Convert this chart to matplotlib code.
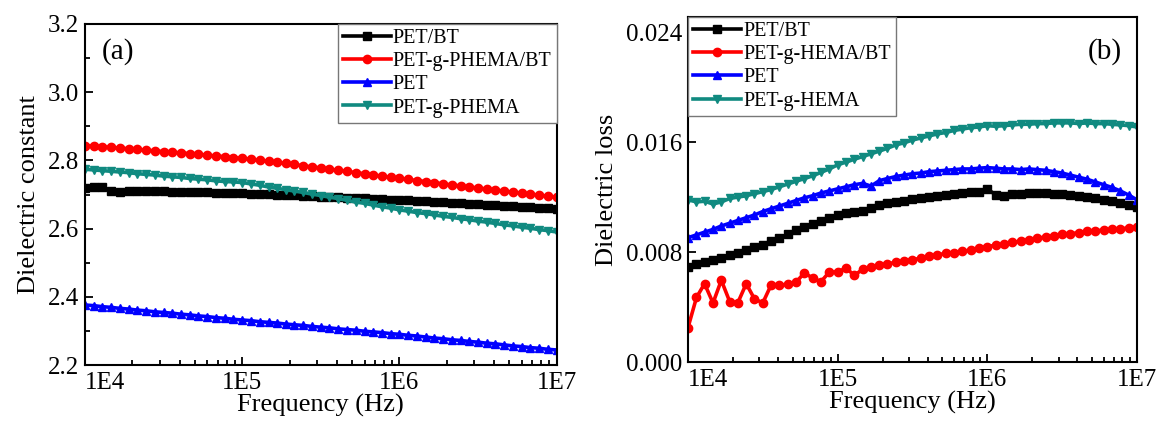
import matplotlib
matplotlib.use("Agg")
import matplotlib.pyplot as plt
from matplotlib.ticker import FixedLocator, LogLocator, MultipleLocator, FormatStrFormatter, NullFormatter

plt.rcParams['font.family'] = ['Liberation Serif', 'DejaVu Serif']

# frequency sweep (Hz), shared by both panels
freq = [1.00e4, 1.14e4, 1.29e4, 1.47e4, 1.67e4, 1.90e4, 2.15e4, 2.45e4, 2.78e4,
        3.16e4, 3.59e4, 4.08e4, 4.64e4, 5.27e4, 6.00e4, 6.81e4, 7.74e4, 8.80e4,
        1.00e5, 1.14e5, 1.29e5, 1.47e5, 1.67e5, 1.90e5, 2.15e5, 2.45e5, 2.78e5,
        3.16e5, 3.59e5, 4.08e5, 4.64e5, 5.27e5, 6.00e5, 6.81e5, 7.74e5, 8.80e5,
        1.00e6, 1.14e6, 1.29e6, 1.47e6, 1.67e6, 1.90e6, 2.15e6, 2.45e6, 2.78e6,
        3.16e6, 3.59e6, 4.08e6, 4.64e6, 5.27e6, 6.00e6, 6.81e6, 7.74e6, 8.80e6,
        1.00e7]

# (a) dielectric constant
eps_pet_bt = [2.720, 2.722, 2.723, 2.709, 2.708, 2.709, 2.710, 2.709, 2.711, 2.710,
              2.708, 2.707, 2.707, 2.706, 2.706, 2.705, 2.705, 2.704, 2.703,
              2.702, 2.702, 2.701, 2.700, 2.699, 2.698, 2.697, 2.696, 2.694, 2.693,
              2.692, 2.691, 2.690, 2.689, 2.688, 2.687, 2.685, 2.684,
              2.683, 2.681, 2.680, 2.679, 2.677, 2.676, 2.674, 2.673, 2.671, 2.670,
              2.668, 2.667, 2.665, 2.664, 2.662, 2.661, 2.659, 2.657]
eps_phema_bt = [2.843, 2.842, 2.840, 2.838, 2.836, 2.834, 2.832, 2.830, 2.828, 2.826,
                2.824, 2.822, 2.820, 2.818, 2.815, 2.813, 2.811, 2.808, 2.806,
                2.803, 2.800, 2.797, 2.794, 2.791, 2.788, 2.784, 2.781, 2.778, 2.774,
                2.771, 2.768, 2.764, 2.761, 2.757, 2.754, 2.750, 2.747,
                2.744, 2.741, 2.738, 2.735, 2.731, 2.728, 2.725, 2.722, 2.719, 2.716,
                2.713, 2.710, 2.707, 2.704, 2.701, 2.698, 2.695, 2.692]
eps_pet = [2.376, 2.374, 2.371, 2.369, 2.366, 2.364, 2.361, 2.359, 2.356, 2.354,
           2.352, 2.349, 2.347, 2.344, 2.342, 2.339, 2.337, 2.334, 2.332,
           2.330, 2.327, 2.325, 2.323, 2.320, 2.318, 2.316, 2.313, 2.311, 2.309,
           2.306, 2.304, 2.302, 2.299, 2.297, 2.295, 2.292, 2.290,
           2.287, 2.285, 2.282, 2.279, 2.277, 2.274, 2.272, 2.269, 2.267, 2.264,
           2.262, 2.259, 2.256, 2.254, 2.251, 2.249, 2.246, 2.244]
eps_phema = [2.774, 2.772, 2.770, 2.768, 2.766, 2.764, 2.761, 2.759, 2.757, 2.754,
             2.752, 2.750, 2.747, 2.745, 2.743, 2.740, 2.738, 2.737, 2.735,
             2.731, 2.727, 2.722, 2.718, 2.714, 2.710, 2.706, 2.701, 2.697, 2.692,
             2.688, 2.683, 2.678, 2.674, 2.669, 2.664, 2.660, 2.655,
             2.651, 2.647, 2.644, 2.640, 2.636, 2.633, 2.629, 2.626, 2.622, 2.619,
             2.615, 2.611, 2.608, 2.604, 2.601, 2.597, 2.594, 2.590]

# (b) dielectric loss
loss_pet_bt = [0.00690, 0.00710, 0.00725, 0.00740, 0.00760, 0.00780, 0.00795, 0.00815, 0.00835, 0.00855,
               0.00880, 0.00900, 0.00930, 0.00960, 0.00985, 0.01005, 0.01025, 0.01050, 0.01070,
               0.01085, 0.01095, 0.01100, 0.01120, 0.01145, 0.01155, 0.01165, 0.01175, 0.01185, 0.01190,
               0.01200, 0.01210, 0.01215, 0.01220, 0.01230, 0.01235, 0.01240, 0.01260,
               0.01215, 0.01210, 0.01220, 0.01225, 0.01230, 0.01230, 0.01230, 0.01225, 0.01220, 0.01215,
               0.01205, 0.01200, 0.01190, 0.01180, 0.01170, 0.01160, 0.01145, 0.01130]
loss_hema_bt = [0.00250, 0.00470, 0.00570, 0.00430, 0.00595, 0.00440, 0.00430, 0.00570, 0.00460, 0.00430,
                0.00560, 0.00560, 0.00565, 0.00580, 0.00650, 0.00610, 0.00585, 0.00655, 0.00655,
                0.00685, 0.00630, 0.00675, 0.00690, 0.00705, 0.00715, 0.00725, 0.00735, 0.00745, 0.00755,
                0.00770, 0.00780, 0.00790, 0.00795, 0.00805, 0.00815, 0.00830, 0.00840,
                0.00850, 0.00860, 0.00870, 0.00880, 0.00890, 0.00900, 0.00910, 0.00920, 0.00930, 0.00935,
                0.00940, 0.00950, 0.00955, 0.00960, 0.00965, 0.00970, 0.00975, 0.00980]
loss_pet = [0.00905, 0.00925, 0.00945, 0.00965, 0.00990, 0.01010, 0.01030, 0.01050, 0.01070, 0.01095,
            0.01115, 0.01135, 0.01155, 0.01175, 0.01195, 0.01210, 0.01230, 0.01245, 0.01260,
            0.01275, 0.01290, 0.01300, 0.01280, 0.01320, 0.01335, 0.01350, 0.01360, 0.01370, 0.01375,
            0.01385, 0.01390, 0.01395, 0.01400, 0.01405, 0.01405, 0.01410, 0.01415,
            0.01410, 0.01405, 0.01405, 0.01400, 0.01405, 0.01400, 0.01395, 0.01385, 0.01375, 0.01360,
            0.01345, 0.01330, 0.01310, 0.01290, 0.01270, 0.01245, 0.01215, 0.01180]
loss_hema = [0.01180, 0.01165, 0.01170, 0.01150, 0.01165, 0.01190, 0.01200, 0.01210, 0.01225, 0.01240,
             0.01255, 0.01275, 0.01295, 0.01315, 0.01335, 0.01355, 0.01380, 0.01405, 0.01435,
             0.01455, 0.01475, 0.01495, 0.01515, 0.01535, 0.01555, 0.01580, 0.01595, 0.01615, 0.01630,
             0.01645, 0.01660, 0.01670, 0.01685, 0.01695, 0.01705, 0.01710, 0.01720,
             0.01715, 0.01720, 0.01725, 0.01730, 0.01730, 0.01735, 0.01735, 0.01740, 0.01740, 0.01740,
             0.01735, 0.01740, 0.01735, 0.01735, 0.01730, 0.01725, 0.01720, 0.01710]

labels_a = ["PET/BT", "PET-g-PHEMA/BT", "PET", "PET-g-PHEMA"]
labels_b = ["PET/BT", "PET-g-HEMA/BT", "PET", "PET-g-HEMA"]
colors = ["black", "#ff0000", "#0000ff", "#108a80"]
markers = ["s", "o", "^", "v"]

fig = plt.figure(figsize=(11.59, 4.21), dpi=100)
ax1 = fig.add_axes([0.0733, 0.133, 0.407, 0.810])
ax2 = fig.add_axes([0.5936, 0.140, 0.3874, 0.8195])

series_a = [eps_pet_bt, eps_phema_bt, eps_pet, eps_phema]
series_b = [loss_pet_bt, loss_hema_bt, loss_pet, loss_hema]

for ax, series, labels in [(ax1, series_a, labels_a), (ax2, series_b, labels_b)]:
    for y, lab, c, m in zip(series, labels, colors, markers):
        ax.plot(freq, y, color=c, marker=m, markersize=6, linewidth=2.6, label=lab)
    ax.set_xscale("log")
    ax.set_xlim(1e4, 1e7)
    ax.xaxis.set_major_locator(FixedLocator([1e4, 1e5, 1e6, 1e7]))
    ax.set_xticklabels(["1E4", "1E5", "1E6", "1E7"])
    ax.get_xticklabels()[0].set_horizontalalignment("left")
    ax.xaxis.set_minor_locator(LogLocator(base=10, subs=range(2, 10)))
    ax.xaxis.set_minor_formatter(NullFormatter())
    ax.tick_params(which="both", direction="in", labelsize=18, width=1.3)
    ax.tick_params(which="major", length=6)
    ax.tick_params(which="minor", length=3.5)
    ax.tick_params(axis="x", pad=5)
    ax.tick_params(axis="y", pad=4)
    for s in ax.spines.values():
        s.set_linewidth(1.5)
    ax.set_xlabel("Frequency (Hz)", fontsize=19, labelpad=0)
    leg = ax.legend(fontsize=14.5, handlelength=2.4, handletextpad=0.1, labelspacing=0.2,
                    borderpad=0.25, borderaxespad=0.0, fancybox=False, framealpha=1,
                    edgecolor="#777777", loc="upper right" if ax is ax1 else "upper left")
    leg.get_frame().set_linewidth(1.0)

ax1.set_ylim(2.2, 3.2)
ax1.yaxis.set_major_locator(MultipleLocator(0.2))
ax1.yaxis.set_minor_locator(MultipleLocator(0.1))
ax1.yaxis.set_major_formatter(FormatStrFormatter("%.1f"))
ax1.set_ylabel("Dielectric constant", fontsize=19, labelpad=6)
ax1.text(0.035, 0.92, "(a)", transform=ax1.transAxes, fontsize=21, va="center")

ax2.set_ylim(0, 0.0251)
ax2.yaxis.set_major_locator(FixedLocator([0.0, 0.008, 0.016, 0.024]))
ax2.yaxis.set_major_formatter(FormatStrFormatter("%.3f"))
ax2.set_ylabel("Dielectric loss", fontsize=19, labelpad=6)
ax2.text(0.89, 0.90, "(b)", transform=ax2.transAxes, fontsize=21, va="center")

fig.savefig("out.png", dpi=100)
